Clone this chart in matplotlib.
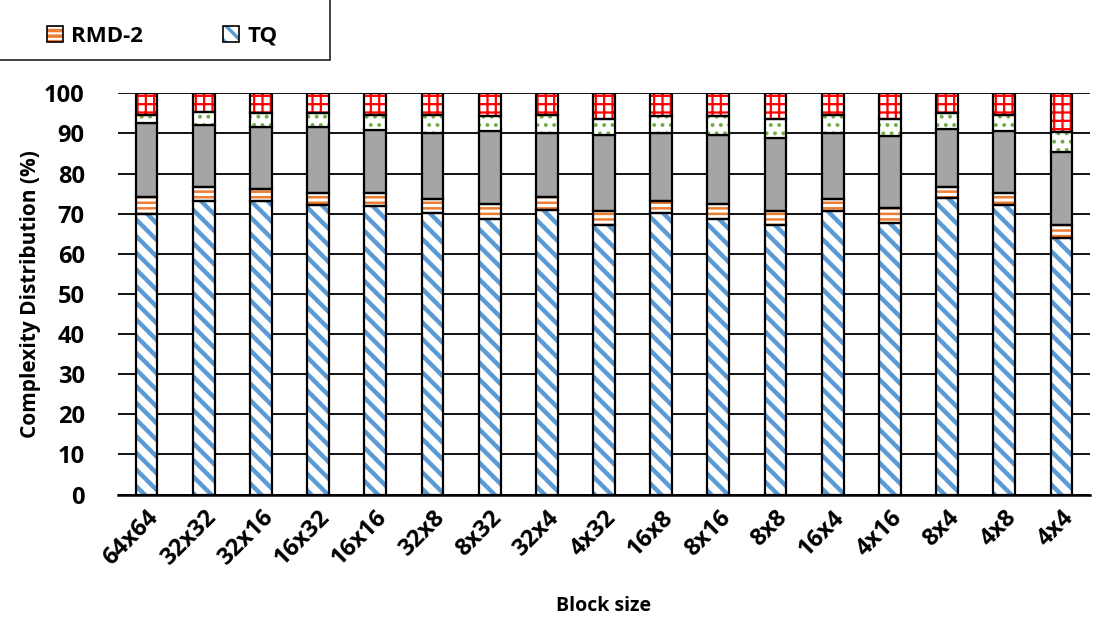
import numpy as np
import matplotlib
matplotlib.use('Agg')
import matplotlib.pyplot as plt
from matplotlib.patches import Patch, Rectangle

plt.rcParams.update({'font.family': ['Open Sans', 'DejaVu Sans'], 'font.weight': 'bold'})

blocks = ['64x64', '32x32', '32x16', '16x32', '16x16', '32x8', '8x32', '32x4', '4x32',
          '16x8', '8x16', '8x8', '16x4', '4x16', '8x4', '4x8', '4x4']
# cumulative tops (%)
tq_top   = [69.9, 73.1, 73.1, 72.2, 71.8, 70.2, 68.8, 71.0, 67.3, 70.2, 68.8, 67.3, 70.7, 67.7, 74.0, 72.1, 63.9]
rmd_top  = [74.1, 76.6, 76.1, 75.1, 75.1, 73.6, 72.3, 74.1, 70.7, 73.1, 72.3, 70.7, 73.6, 71.3, 76.6, 75.1, 67.3]
gray_top = [92.6, 92.2, 91.6, 91.6, 90.8, 90.1, 90.7, 90.1, 89.7, 90.1, 89.7, 88.9, 90.1, 89.3, 91.2, 90.7, 85.4]
grn_top  = [94.7, 95.3, 95.2, 95.2, 94.7, 94.5, 94.3, 94.7, 93.7, 94.4, 94.4, 93.5, 94.7, 93.6, 95.2, 94.7, 90.3]

tq   = np.array(tq_top)
rmd  = np.array(rmd_top) - np.array(tq_top)
gray = np.array(gray_top) - np.array(rmd_top)
grn  = np.array(grn_top) - np.array(gray_top)
red  = 100 - np.array(grn_top)

segments = [
    ('TQ',    tq,   '#5B9BD5', '\\\\', 3.2),
    ('RMD-2', rmd,  '#ED7D31', '---',  1.8),
    ('other', gray, '#A5A5A5', None,   0),
    ('green', grn,  '#70AD47', '..',   1.6),
    ('red',   red,  '#FF0000', '++',   1.6),
]

fig = plt.figure(figsize=(10.99, 6.19), dpi=100)
ax = fig.add_axes([118 / 1099, 1 - 494.6 / 619, 972 / 1099, 401.3 / 619])
x = np.arange(len(blocks))
w = 0.38
bottom = np.zeros(len(blocks))
handles = {}
for name, vals, col, hatch, hlw in segments:
    if hatch is None:
        ax.bar(x, vals, w, bottom=bottom, color=col, edgecolor='black', lw=1.6, zorder=3)
    else:
        with plt.rc_context({'hatch.linewidth': hlw}):
            bars = ax.bar(x, vals, w, bottom=bottom, color='white', edgecolor=col,
                          hatch=hatch, lw=0, zorder=3)
            for b in bars:
                if hasattr(b, 'set_hatch_linewidth'):
                    b.set_hatch_linewidth(hlw)
        ax.bar(x, vals, w, bottom=bottom, fill=False, edgecolor='black', lw=1.6, zorder=4)
    handles[name] = (col, hatch, hlw)
    bottom = bottom + vals

ax.set_xlim(-0.5, len(blocks) - 0.5)
ax.set_ylim(0, 100)
ax.set_yticks(np.arange(0, 101, 10))
ax.yaxis.grid(True, color='black', lw=1.3, zorder=0)
ax.set_axisbelow(True)
for s in ['top', 'right', 'left']:
    ax.spines[s].set_visible(False)
ax.spines['bottom'].set_linewidth(1.8)
ax.tick_params(axis='y', length=0, pad=24, labelsize=17)
ax.tick_params(axis='x', length=0, pad=8, labelsize=17)
ax.set_xticks(x)
ax.set_xticklabels(blocks, rotation=45, ha='right', rotation_mode='anchor', fontweight='bold')
for t in ax.get_yticklabels():
    t.set_fontweight('bold')
ax.set_ylabel('Complexity Distribution (%)', fontsize=15, fontweight='bold')
ax.yaxis.set_label_coords(-0.079, 0.5)
ax.set_xlabel('Block size', fontsize=14, fontweight='bold')
ax.xaxis.set_label_coords(0.5, -0.252)

# legend (its top is cut off in the original)
leg_handles = []
for name in ['RMD-2', 'TQ']:
    col, hatch, hlw = handles[name]
    leg_handles.append((Patch(facecolor='white', edgecolor=col, hatch=hatch, lw=0),
                        Patch(fill=False, edgecolor='black', lw=1.2)))
with plt.rc_context({'hatch.linewidth': 2.5}):
    leg = fig.legend(leg_handles, ['RMD-2', 'TQ'], loc='center left', ncol=2,
                     bbox_to_anchor=(47 / 1099, 1 - 36 / 619), borderaxespad=0,
                     borderpad=0, frameon=False, fontsize=16,
                     handlelength=0.7, handleheight=0.7, handletextpad=0.4,
                     columnspacing=3.6)
for t in leg.get_texts():
    t.set_fontweight('bold')
fig.add_artist(Rectangle((-0.01, 1 - 60 / 619), 330 / 1099 + 0.01, 0.2, fill=False,
                         edgecolor='#333333', lw=1.3, transform=fig.transFigure, clip_on=False))

fig.savefig('out.png', dpi=100)
